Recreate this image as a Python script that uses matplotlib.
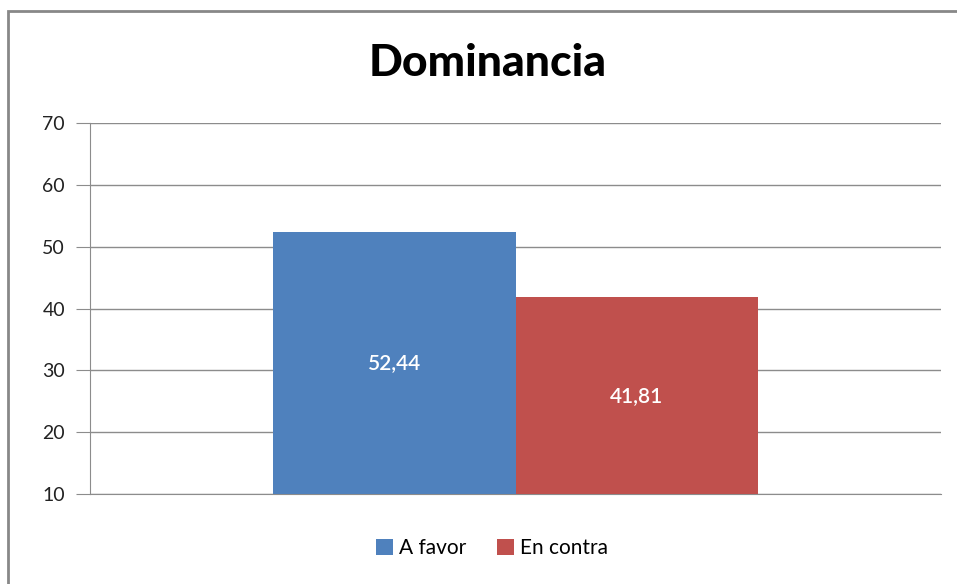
import numpy as np
import matplotlib.pyplot as plt
from matplotlib.lines import Line2D

# data
series = ['A favor', 'En contra']
values = [52.44, 41.81]
labels = ['52,44', '41,81']
colors = ['#4F81BD', '#C0504D']
yticks = [10, 20, 30, 40, 50, 60, 70]

plt.rcParams['font.family'] = ['Lato', 'DejaVu Sans']

fig = plt.figure(figsize=(9.57, 5.84), dpi=100)
ax = fig.add_axes([90/957, 1-494/584, 851/957, 371/584])

w = 0.285
offsets = [-w/2, w/2]
for name, v, lab, c, off in zip(series, values, labels, colors, offsets):
    ax.bar(off, v - 10, width=w, bottom=10, color=c, label=name, zorder=3)
    ax.text(off, (10 + v) / 2, lab, color='white', ha='center', va='center',
            fontsize=15, fontweight='semibold', zorder=4)

ax.set_xlim(-0.5, 0.5)
ax.set_ylim(10, 70)
ax.set_yticks(yticks)
ax.set_yticklabels([str(t) for t in yticks], fontsize=14, color='#222222')
ax.set_xticks([])
ax.grid(axis='y', color='#8c8c8c', linewidth=1, zorder=0)
for s in ['top', 'right']:
    ax.spines[s].set_visible(False)
for s in ['left', 'bottom']:
    ax.spines[s].set_color('#8c8c8c')
ax.tick_params(axis='y', length=10, color='#8c8c8c', pad=8)

fig.text(488/957, 1-63/584, 'Dominancia', ha='center', va='center',
         fontsize=32, fontweight='black')

leg = fig.legend(loc='center', bbox_to_anchor=(492/957, 1-548/584), ncol=2,
                 frameon=False, fontsize=15, handlelength=0.8, handleheight=0.8,
                 handletextpad=0.3, columnspacing=1.5)

# chart border (only left and top visible)
bx, by = 8/957, 1 - 11/584
fig.lines.append(Line2D([bx, bx, 1.02], [-0.02, by, by], transform=fig.transFigure,
                        color='#888888', linewidth=2, solid_joinstyle='miter'))

fig.savefig('out.png', dpi=100)
